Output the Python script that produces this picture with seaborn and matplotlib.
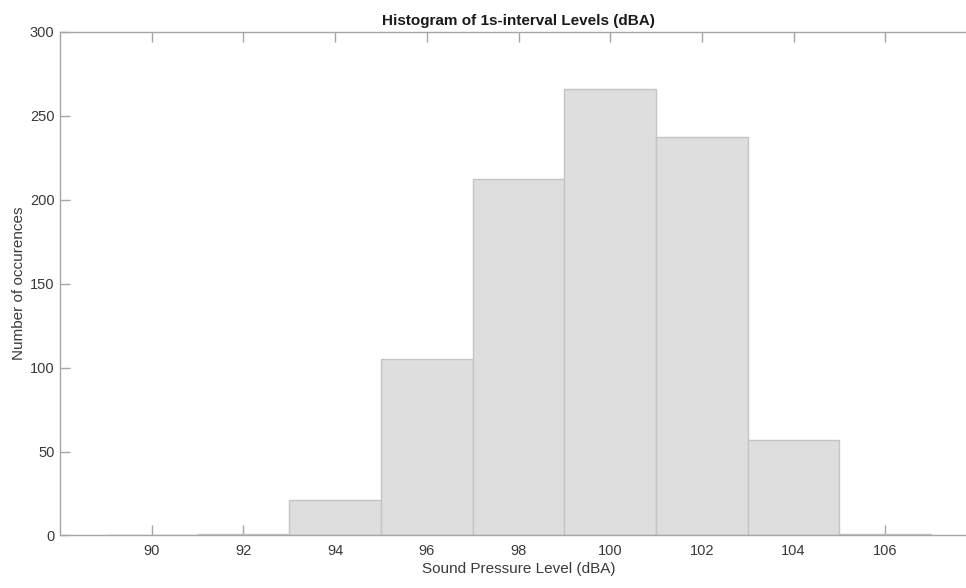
import numpy as np
import pandas as pd
import seaborn as sns
import matplotlib
matplotlib.use("Agg")
import matplotlib.pyplot as plt

# Histogram counts per 2 dBA bin (bin centres)
bin_centers = [90, 92, 94, 96, 98, 100, 102, 104, 106]
counts = [0, 1, 21, 105, 212, 266, 237, 57, 1]
bin_edges = [89, 91, 93, 95, 97, 99, 101, 103, 105, 107]

x_ticks = [90, 92, 94, 96, 98, 100, 102, 104, 106]
y_ticks = [0, 50, 100, 150, 200, 250, 300]

df = pd.DataFrame({"level": bin_centers, "count": counts})

sns.set_theme(style="white")
plt.rcParams["font.family"] = ["Liberation Sans", "DejaVu Sans"]

fig = plt.figure(figsize=(9.66, 5.88), dpi=100)
ax = fig.add_axes([0.0621, 0.0893, 0.9493, 0.8568])

sns.histplot(data=df, x="level", weights="count", bins=bin_edges,
             color="#dedede", edgecolor="#c4c4c4", linewidth=1.0,
             alpha=1.0, ax=ax)

ax.set_xlim(88, 108)
ax.set_ylim(0, 300)
ax.set_xticks(x_ticks)
ax.set_yticks(y_ticks)

axis_col = "#a6a6a6"
text_col = "#3a3a3a"
for name, s in ax.spines.items():
    s.set_visible(name != "right")
    s.set_color(axis_col)
    s.set_linewidth(1.0)

ax.tick_params(axis="both", direction="in", length=7, width=1.0,
               color=axis_col, labelcolor=text_col, labelsize=10.5)
ax.tick_params(axis="x", top=True, bottom=True, pad=6)
ax.tick_params(axis="y", left=True, right=False, pad=4)

ax.set_xlabel("Sound Pressure Level (dBA)", fontsize=11, color=text_col, labelpad=3)
ax.set_ylabel("Number of occurences", fontsize=11, color=text_col, labelpad=3)
ax.set_title("Histogram of 1s-interval Levels (dBA)", fontsize=11,
             fontweight="bold", color="#1a1a1a", pad=5)

fig.savefig("out.png", dpi=100)
